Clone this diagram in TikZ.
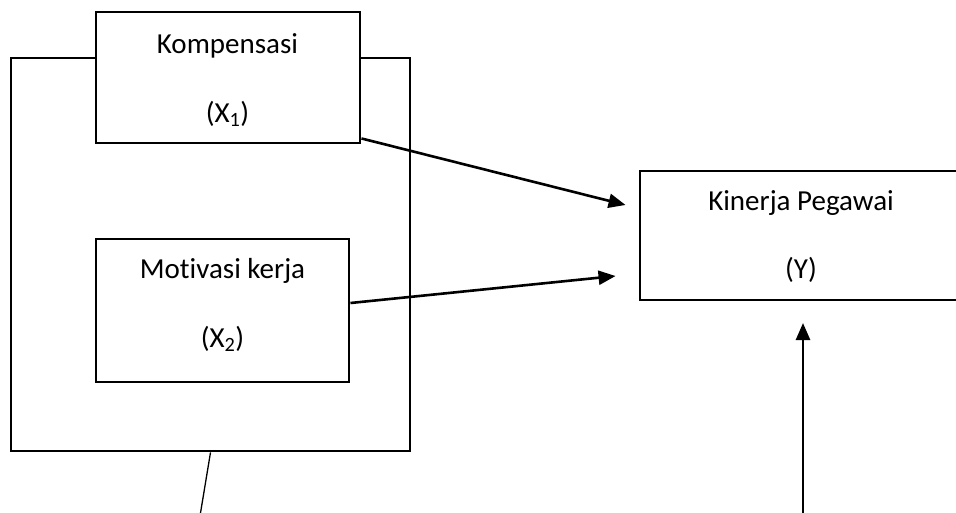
\documentclass[tikz,border=0pt]{standalone}
\usepackage{fontspec}
\setmainfont{Carlito}[Ligatures={NoCommon}]
\usetikzlibrary{arrows.meta}
\begin{document}
\begin{tikzpicture}[x=1pt,y=-1pt,
  box/.style={draw,line width=2.9pt,fill=white,inner sep=0pt},
  lbl/.style={inner sep=0pt,anchor=base,font=\fontsize{29}{35}\selectfont},
  conn/.style={line width=2.6pt,-{Triangle[length=17pt,width=14pt]}},
  thin/.style={line width=1.3pt}]
\useasboundingbox (0,0) rectangle (956,512);
\fill[white] (0,0) rectangle (956,512);
% outer box
\node[box,minimum width=399pt,minimum height=393pt] (outer) at (210.5,254.5) {};
% Kompensasi
\node[box,minimum width=264pt,minimum height=131pt] (komp) at (228,77.5) {};
\node[lbl] (kompt) at (227.5,53) {Kompensasi};
\node[lbl] (kompx) at (227.5,122) {(X\textsubscript{1})};
% Motivasi
\node[box,minimum width=253pt,minimum height=143pt] (mot) at (222.5,310.5) {};
\node[lbl] (mott) at (222.5,278) {Motivasi kerja};
\node[lbl] (motx) at (222.5,347) {(X\textsubscript{2})};
% Kinerja
\node[box,minimum width=330pt,minimum height=129pt] (kin) at (805,235.5) {};
\node[lbl] (kint) at (801,210) {Kinerja Pegawai};
\node[lbl] (kinx) at (801,278) {(Y)};
% connectors
\coordinate (ybot) at (803,516);
\coordinate (lbot) at (200,516);
\draw[conn] ([yshift=6pt]komp.south east) -- ([xshift=-13pt,yshift=30.5pt]kin.west);
\draw[conn] ([yshift=7.5pt]mot.east) -- ([xshift=-23pt,yshift=-40.5pt]kin.west);
\draw[conn] (ybot) -- (803,323);
\draw[thin] (outer.south) -- (lbot);
\end{tikzpicture}
\end{document}
